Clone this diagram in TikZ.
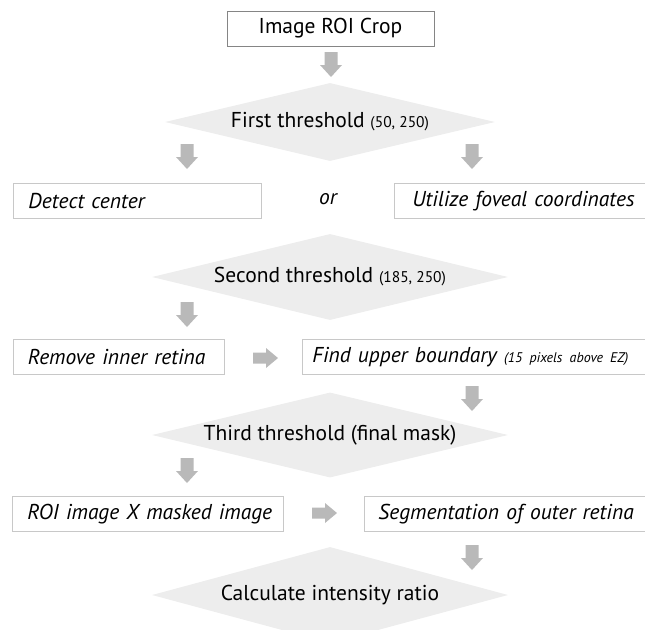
\documentclass[tikz,border=0pt]{standalone}
\usepackage{fontspec}
\setmainfont{PT Sans}
\usetikzlibrary{shapes.geometric}

\definecolor{arrowgray}{HTML}{B9B9B9}
\definecolor{diafill}{HTML}{EDEDED}
\definecolor{boxline}{HTML}{C8C8C8}
\definecolor{topline}{HTML}{858585}

\tikzset{
  x=1pt, y=-1pt,
  every node/.style={font=\fontsize{21.5}{24}\selectfont, text=black},
  topbox/.style={draw=topline, line width=0.9pt, minimum width=207, minimum height=35, inner sep=0},
  stepbox/.style={draw=boxline, line width=0.9pt, anchor=north west, minimum height=35,
    inner ysep=0, align=left, font=\fontsize{21.5}{24}\selectfont\itshape},
  decision/.style={diamond, fill=diafill, aspect=4, inner sep=0},
  dnarrow/.pic={\fill[arrowgray] (-6.5,0) -- (6.5,0) -- (6.5,13) -- (11,13) -- (0,25) -- (-11,13) -- (-6.5,13) -- cycle;},
  rtarrow/.pic={\fill[arrowgray] (0,-5.5) -- (13,-5.5) -- (13,-10) -- (25,0) -- (13,10) -- (13,5.5) -- (0,5.5) -- cycle;}
}
\newcommand\smallpar[1]{{\fontsize{15.5}{18}\selectfont #1}}

\begin{document}
\begin{tikzpicture}
\useasboundingbox (0,0) rectangle (645,629);
\clip (0,0) rectangle (645,629);

% start
\node[topbox] (crop) at (330.5,28.5) {Image ROI Crop};
\pic at (331,52) {dnarrow};

% first threshold
\node[decision, minimum width=330, minimum height=78] (t1) at (330,122)
  {First threshold \smallpar{(50, 250)}};
\pic at (187,144) {dnarrow};
\pic at (472,144) {dnarrow};

\node[stepbox, text width=218, inner xsep=15] (center) at (13,183) {\mbox{Detect center}};
\node (or) at (328,199) {\itshape or};
\node[stepbox, text width=240, inner xsep=18] (fovea) at (394,183) {\mbox{Utilize foveal coordinates}};

% second threshold
\node[decision, minimum width=356, minimum height=86] (t2) at (330,277)
  {Second threshold \smallpar{(185, 250)}};
\pic at (187,302) {dnarrow};

\node[stepbox, text width=182, inner xsep=14.5] (inner) at (13,339) {\mbox{Remove inner retina}};
\pic at (253,358) {rtarrow};
\node[stepbox, text width=335, inner xsep=10] (upper) at (302,339)
  {\mbox{Find upper boundary {\fontsize{14}{16}\selectfont(15 pixels above EZ)}}};
\pic at (472,386) {dnarrow};

% third threshold
\node[decision, minimum width=356, minimum height=85] (t3) at (330,435) {Third threshold (final mask)};
\pic at (187,458) {dnarrow};

\node[stepbox, text width=241, inner xsep=15] (masked) at (12,496) {\mbox{ROI image X masked image}};
\pic at (312,513) {rtarrow};
\node[stepbox, text width=270, inner xsep=14] (outer) at (364,496) {\mbox{Segmentation of outer retina}};
\pic at (472,545) {dnarrow};

% final step
\node[decision, minimum width=356, minimum height=96] (ratio) at (330,595) {Calculate intensity ratio};
\end{tikzpicture}
\end{document}
